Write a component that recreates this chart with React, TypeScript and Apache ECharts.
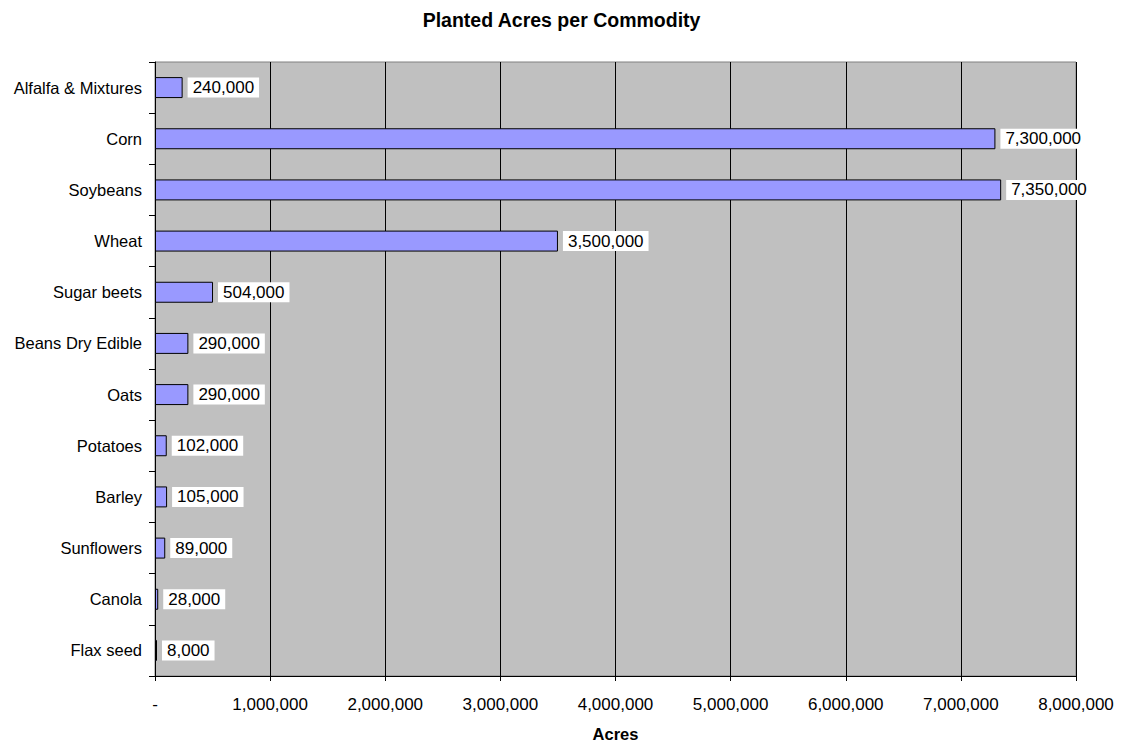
import React, { useEffect, useRef } from "react";
import * as echarts from "echarts";

// Commodities, top to bottom
const categories: string[] = [
  "Alfalfa & Mixtures",
  "Corn",
  "Soybeans",
  "Wheat",
  "Sugar beets",
  "Beans Dry Edible",
  "Oats",
  "Potatoes",
  "Barley",
  "Sunflowers",
  "Canola",
  "Flax seed",
];

// Planted acres for each commodity
const plantedAcres: number[] = [
  240000, 7300000, 7350000, 3500000, 504000, 290000, 290000, 102000, 105000,
  89000, 28000, 8000,
];

const axisMin = 0;
const axisMax = 8000000;
const axisStep = 1000000;

const FONT = "'Liberation Sans', Arial, sans-serif";

const fmt = (v: number) => (v === 0 ? "-" : v.toLocaleString("en-US"));

export default function App() {
  const ref = useRef<HTMLDivElement>(null);

  useEffect(() => {
    if (!ref.current) return;
    const chart = echarts.init(ref.current, undefined, { renderer: "svg" });
    chart.setOption({
      animation: false,
      backgroundColor: "#ffffff",
      title: {
        text: "Planted Acres per Commodity",
        left: "center",
        top: 5,
        textStyle: {
          fontFamily: FONT,
          fontSize: 19.5,
          fontWeight: "bold",
          color: "#000",
        },
      },
      grid: {
        left: 155,
        top: 62,
        right: 47,
        bottom: 69,
        show: true,
        backgroundColor: "#c0c0c0",
        borderColor: "#808080",
        borderWidth: 1,
      },
      xAxis: {
        type: "value",
        min: axisMin,
        max: axisMax,
        interval: axisStep,
        name: "Acres",
        nameLocation: "middle",
        nameGap: 49,
        nameTextStyle: {
          fontFamily: FONT,
          fontSize: 16.5,
          fontWeight: "bold",
          color: "#000",
        },
        axisLine: { show: true, lineStyle: { color: "#000", width: 1 } },
        axisTick: { show: true, length: 5, lineStyle: { color: "#000" } },
        splitLine: { show: true, lineStyle: { color: "#000", width: 1 } },
        axisLabel: {
          fontFamily: FONT,
          fontSize: 17,
          color: "#000",
          margin: 20,
          formatter: (v: number) => fmt(v),
        },
      },
      yAxis: {
        type: "category",
        data: categories,
        inverse: true,
        axisLine: { show: true, lineStyle: { color: "#000", width: 1 } },
        axisTick: { show: true, length: 6, lineStyle: { color: "#000" } },
        axisLabel: {
          fontFamily: FONT,
          fontSize: 16.5,
          color: "#000",
          margin: 13,
        },
        splitLine: { show: false },
      },
      series: [
        {
          type: "bar",
          data: plantedAcres,
          barWidth: "41%",
          barMinHeight: 2,
          itemStyle: {
            color: "#9999ff",
            borderColor: "#000",
            borderWidth: 1,
          },
          label: {
            show: true,
            position: "right",
            distance: 5,
            fontFamily: FONT,
            fontSize: 17,
            color: "#000",
            backgroundColor: "#ffffff",
            padding: [2, 5, 2, 5],
            lineHeight: 16,
            formatter: (p: any) => fmt(p.value),
          },
        },
      ],
    });
    return () => chart.dispose();
  }, []);

  return (
    <div
      ref={ref}
      style={{ position: "fixed", left: 0, top: 0, width: 1123, height: 747 }}
    />
  );
}
